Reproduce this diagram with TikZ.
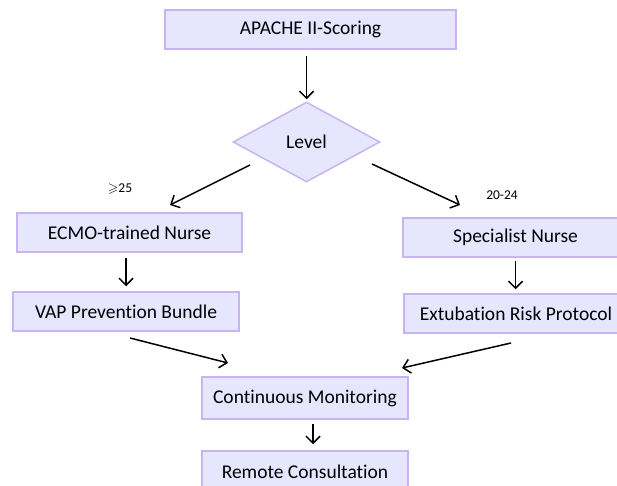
\documentclass[tikz,border=0pt]{standalone}
\usepackage{amsmath, amssymb}
\usepackage{fontspec}
\setmainfont{Carlito}[Ligatures=NoCommon]
\usepackage{tikz}
\usetikzlibrary{arrows.meta, shapes.geometric}
\definecolor{boxfill}{RGB}{230,230,255}
\definecolor{boxline}{RGB}{200,180,240}

\begin{document}
\begin{tikzpicture}[x=1pt, y=-1pt,
    box/.style={draw=boxline, fill=boxfill, line width=1.5pt, minimum height=39pt, inner sep=0pt, font=\fontsize{19.5}{22}\selectfont},
    decision/.style={diamond, aspect=1.84, draw=boxline, fill=boxfill, line width=1.5pt, minimum width=147pt, minimum height=80pt, inner sep=0pt, font=\fontsize{19.5}{22}\selectfont},
    arr/.style={-{Straight Barb[length=7pt, width=14pt]}, line width=1.5pt},
    lbl/.style={font=\fontsize{13.5}{15}\selectfont}]
  \useasboundingbox (0,0) rectangle (617,486);
  \clip (0,0) rectangle (617,486);

  % Top of the chart
  \node[box, minimum width=291pt] (apache) at (310.5, 29.5) {APACHE II-Scoring};
  \node[decision] (level) at (306.5, 142) {Level};
  \draw[arr, shorten <=6pt, shorten >=2pt] (level.north |- apache.south) -- (level.north);

  % Left branch
  \node[box, minimum width=225pt] (ecmo) at (129.5, 232.5) {ECMO-trained Nurse};
  \node[box, minimum width=226pt] (vap) at (126, 311.5) {VAP Prevention Bundle};
  \coordinate (lstart) at (250, 165);
  \coordinate (lend) at (170, 205);
  \draw[arr] (lstart) -- (lend);
  \node[lbl] (hi) at (120, 189) {$\geqslant$25};
  \draw[arr, shorten <=5pt, shorten >=5pt] (vap.north |- ecmo.south) -- (vap.north);

  % Right branch
  \node[box, minimum width=225pt] (spec) at (515.5, 237.5) {Specialist Nurse};
  \node[box, minimum width=224pt] (extu) at (516, 313.5) {Extubation Risk Protocol};
  \coordinate (rstart) at (372, 164);
  \coordinate (rend) at (460, 205);
  \draw[arr] (rstart) -- (rend);
  \node[lbl] (mid) at (502, 195) {20-24};
  \draw[arr, shorten <=3pt, shorten >=4pt] (spec.south) -- (spec.south |- extu.north);

  % Merging
  \node[box, minimum width=206pt, minimum height=42pt] (monitor) at (305, 398) {Continuous Monitoring};
  \node[box, minimum width=206pt, minimum height=42pt] (remote) at (305, 472) {Remote Consultation};
  \coordinate (vapout) at (130, 338);
  \coordinate (monin1) at (228, 363);
  \coordinate (extout) at (511, 343);
  \coordinate (monin2) at (402, 368);
  \draw[arr] (vapout) -- (monin1);
  \draw[arr] (extout) -- (monin2);
  \draw[arr, shorten <=4pt, shorten >=6pt] (313, 0 |- monitor.south) -- (313, 0 |- remote.north);
\end{tikzpicture}
\end{document}
